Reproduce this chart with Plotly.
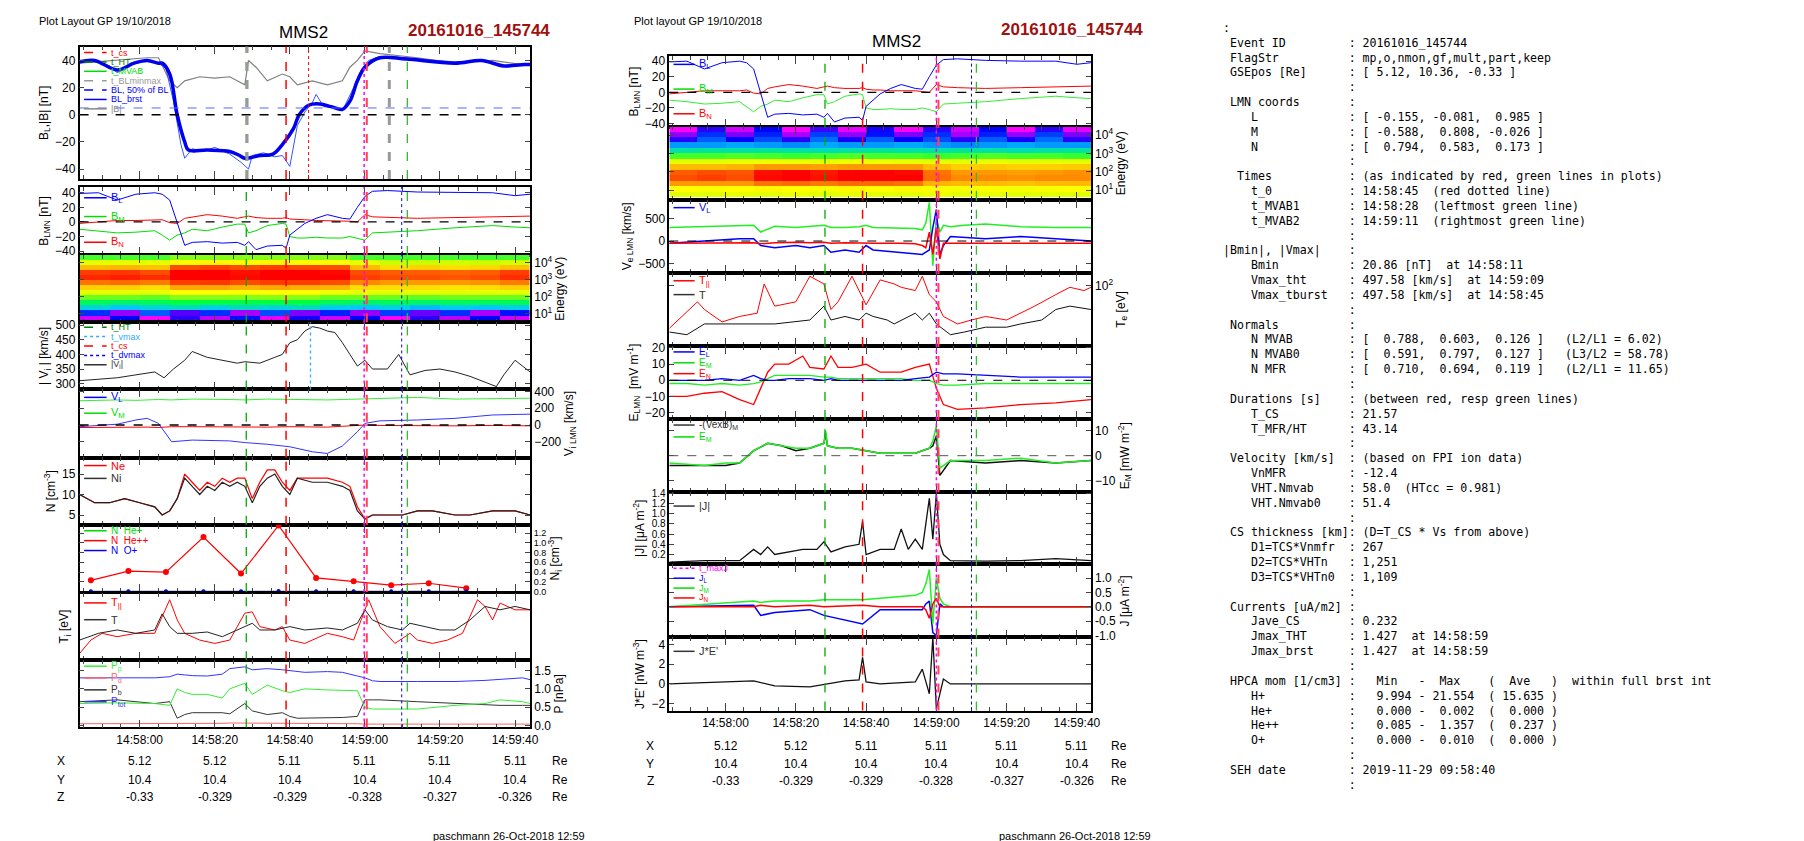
import plotly.graph_objects as go

W, H = 1804, 841
FONT = "Liberation Sans"

# ---------------- data (time in s after 14:57:44) ----------------
TICK_T = [16, 36, 56, 76, 96, 116]
TICK_LBL = ["14:58:00", "14:58:20", "14:58:40", "14:59:00", "14:59:20", "14:59:40"]
POS_X = ["5.12", "5.12", "5.11", "5.11", "5.11", "5.11"]
POS_Y = ["10.4", "10.4", "10.4", "10.4", "10.4", "10.4"]
POS_Z = ["-0.33", "-0.329", "-0.329", "-0.328", "-0.327", "-0.326"]

# panel 1: BL smoothed, BL burst, |B|
bl_t = [0, 4, 10, 14.5, 18, 21, 22, 24, 26, 28, 29, 34, 40, 42.6, 44, 48, 51.5, 54, 57, 58.5, 61, 64, 67, 70, 72, 74, 76, 80, 87, 100, 107, 113, 118.5, 120]
bl_smooth = [39, 40, 33, 38, 40, 38, 38, 30, 0, -20, -26, -26, -27, -30, -32, -30, -29, -22, -10, 0, 7, 8, 6, 4, 10, 25, 35, 42, 41, 38, 40, 36, 37, 37]
blb_t = [0, 4, 8, 10, 14, 18, 21, 23, 25, 27, 28, 30, 33, 36, 40, 43, 45, 46, 49, 52, 54, 56, 58, 60, 62, 63, 65, 68, 70, 73, 75, 77, 80, 87, 95, 100, 107, 113, 120]
bl_brst = [40, 39, 36, 31, 37, 40, 38, 34, 10, -22, -32, -25, -27, -24, -29, -35, -40, -30, -28, -31, -30, -38, -8, 2, 9, 15, 6, 5, 3, 20, 33, 40, 43, 42, 40, 39, 40, 35, 37]
babs_t = [0, 10, 18, 21, 24, 26, 28, 32, 36, 40, 44, 45, 47, 50, 54, 56, 58, 62, 66, 70, 72, 74, 76, 80, 90, 100, 110, 118, 120]
b_abs = [38, 40, 42, 42, 25, 20, 25, 28, 27, 28, 22, 40, 35, 25, 30, 28, 22, 25, 22, 25, 35, 40, 47, 45, 42, 38, 40, 37, 37]

# panel 2 / middle 1: B LMN
blmn_t = [0, 5, 10, 15, 20, 22, 24, 26, 28, 30, 34, 38, 42, 44, 45, 47, 50, 54, 55, 56, 58, 60, 63, 66, 70, 72, 74, 76, 78, 82, 90, 100, 110, 116, 120]
b_l = [39, 40, 30, 38, 40, 38, 30, 0, -32, -28, -27, -29, -28, -32, -27, -38, -33, -32, -36, -18, -10, -2, 5, 10, 5, 4, 20, 35, 42, 43, 41, 40, 40, 36, 38]
b_m = [-10, -12, -15, -14, -12, -18, -25, -18, -15, -10, -12, -7, -3, -3, -15, -12, -5, -2, -3, -20, -22, -22, -21, -22, -22, -20, -22, -25, -15, -14, -12, -8, -5, -7, -8]
b_n = [-2, 0, 2, 2, 2, 3, -1, -2, 5, 7, 10, 8, 5, 7, 8, 6, 5, 5, 6, 4, 3, 3, 2, 2, 2, 1, 0, 10, 7, 6, 5, 6, 7, 8, 8]

# ion spectrogram (left) and electron spectrogram (middle)
SPEC_T = [4, 12, 20, 28, 36, 44, 52, 60, 68, 76, 84, 92, 100, 108, 116]
SPEC_E = [4.35, 4.05, 3.75, 3.45, 3.15, 2.85, 2.55, 2.25, 1.95, 1.65, 1.35, 1.05, 0.75]
ion_spec = [
    [0.45, 0.45, 0.45, 0.5, 0.5, 0.5, 0.5, 0.5, 0.5, 0.45, 0.45, 0.45, 0.45, 0.45, 0.45],
    [0.6, 0.6, 0.6, 0.65, 0.66, 0.65, 0.66, 0.65, 0.65, 0.6, 0.55, 0.55, 0.56, 0.55, 0.57],
    [0.75, 0.76, 0.74, 0.9, 0.92, 0.9, 0.92, 0.91, 0.9, 0.75, 0.7, 0.72, 0.7, 0.71, 0.74],
    [0.92, 0.93, 0.9, 1.0, 1.0, 0.98, 1.0, 1.0, 0.99, 0.9, 0.88, 0.88, 0.87, 0.88, 0.92],
    [0.95, 0.96, 0.94, 1.0, 1.0, 0.99, 1.0, 1.0, 1.0, 0.92, 0.9, 0.9, 0.89, 0.9, 0.94],
    [0.85, 0.86, 0.84, 0.92, 0.93, 0.9, 0.92, 0.92, 0.9, 0.82, 0.8, 0.8, 0.8, 0.81, 0.84],
    [0.72, 0.72, 0.7, 0.78, 0.78, 0.76, 0.78, 0.77, 0.76, 0.7, 0.7, 0.7, 0.69, 0.7, 0.72],
    [0.6, 0.6, 0.6, 0.65, 0.65, 0.64, 0.65, 0.65, 0.62, 0.6, 0.6, 0.6, 0.6, 0.6, 0.6],
    [0.48, 0.48, 0.47, 0.5, 0.5, 0.5, 0.5, 0.5, 0.48, 0.48, 0.48, 0.47, 0.48, 0.48, 0.48],
    [0.38, 0.37, 0.38, 0.4, 0.4, 0.39, 0.4, 0.4, 0.38, 0.37, 0.38, 0.37, 0.38, 0.38, 0.38],
    [0.28, 0.25, 0.28, 0.3, 0.27, 0.3, 0.28, 0.3, 0.26, 0.25, 0.27, 0.24, 0.26, 0.25, 0.27],
    [0.15, 0.05, 0.18, 0.08, 0.15, 0.04, 0.17, 0.06, 0.14, 0.05, 0.16, 0.07, 0.15, 0.04, 0.13],
    [0.02, 0.12, 0.0, 0.1, 0.03, 0.13, 0.01, 0.11, 0.02, 0.12, 0.0, 0.1, 0.03, 0.12, 0.02],
]
ele_spec = [
    [0.0, 0.1, 0.02, 0.12, 0.0, 0.09, 0.01, 0.11, 0.0, 0.1, 0.02, 0.12, 0.0, 0.1, 0.01],
    [0.05, 0.15, 0.06, 0.14, 0.04, 0.16, 0.05, 0.13, 0.06, 0.15, 0.04, 0.14, 0.05, 0.16, 0.06],
    [0.1, 0.18, 0.12, 0.17, 0.1, 0.19, 0.11, 0.18, 0.12, 0.17, 0.1, 0.18, 0.11, 0.19, 0.1],
    [0.22, 0.22, 0.23, 0.22, 0.21, 0.23, 0.22, 0.22, 0.23, 0.22, 0.21, 0.22, 0.23, 0.22, 0.22],
    [0.32, 0.33, 0.32, 0.33, 0.32, 0.31, 0.32, 0.33, 0.32, 0.32, 0.33, 0.32, 0.31, 0.32, 0.33],
    [0.45, 0.45, 0.46, 0.45, 0.44, 0.45, 0.46, 0.45, 0.45, 0.44, 0.45, 0.46, 0.45, 0.45, 0.44],
    [0.6, 0.6, 0.61, 0.62, 0.62, 0.61, 0.62, 0.62, 0.61, 0.6, 0.6, 0.61, 0.6, 0.6, 0.6],
    [0.75, 0.75, 0.76, 0.8, 0.8, 0.79, 0.8, 0.8, 0.8, 0.75, 0.72, 0.73, 0.72, 0.72, 0.73],
    [0.88, 0.9, 0.89, 0.98, 1.0, 0.97, 1.0, 1.0, 0.99, 0.85, 0.8, 0.8, 0.79, 0.8, 0.81],
    [0.9, 0.92, 0.9, 0.99, 1.0, 0.98, 1.0, 1.0, 1.0, 0.86, 0.82, 0.82, 0.81, 0.82, 0.82],
    [0.8, 0.8, 0.8, 0.85, 0.86, 0.84, 0.86, 0.86, 0.85, 0.76, 0.75, 0.75, 0.74, 0.75, 0.75],
    [0.65, 0.64, 0.65, 0.66, 0.65, 0.64, 0.66, 0.65, 0.66, 0.64, 0.63, 0.64, 0.63, 0.64, 0.65],
    [0.6, 0.6, 0.61, 0.6, 0.62, 0.6, 0.61, 0.6, 0.6, 0.62, 0.6, 0.61, 0.6, 0.6, 0.6],
]

# panel 4: |Vi|
vi_t = [0, 5, 10, 15, 20, 22.5, 25, 28, 30, 34, 38, 42, 44, 48, 52, 54, 56, 58, 60, 62, 64, 66, 68, 70, 72, 74, 76, 78, 82, 85, 88, 92, 96, 100, 104, 108, 111, 113, 116, 120]
vi = [310, 315, 320, 330, 340, 320, 350, 380, 410, 390, 380, 370, 375, 370, 390, 400, 440, 450, 480, 495, 490, 480, 475, 440, 400, 360, 380, 350, 350, 400, 330, 345, 350, 340, 325, 305, 290, 330, 380, 340]

# panel 5: Vi LMN
vlmn_t = [0, 10, 15, 18, 21, 24.5, 30, 40, 44, 50, 56, 62, 66, 70, 74, 76, 80, 90, 100, 110, 120]
v_l = [-20, 10, 60, 80, 20, -200, -180, -190, -210, -230, -260, -320, -340, -250, -80, 20, 50, 60, 80, 120, 130]
v_m = [290, 300, 295, 300, 305, 300, 310, 305, 300, 310, 305, 300, 300, 305, 310, 320, 325, 330, 310, 315, 320]
v_n = [-30, -25, -20, -25, -30, -20, -20, -25, -20, -25, -20, -20, -25, -15, -10, 0, -5, -10, -10, -5, -10]

# panel 6: densities
n_t = [0, 4, 8, 12, 16, 20, 22, 24, 26, 28, 30, 32, 34, 36, 38, 40, 42, 44, 46, 48, 50, 52, 54, 56, 58, 62, 66, 70, 72, 74, 76, 78, 82, 86, 90, 94, 100, 104, 110, 116, 120]
n_i = [10, 8, 8, 9, 8, 7, 5, 6, 9, 14, 12, 10, 12, 11, 13, 12, 13, 12, 8, 12, 14, 15, 12, 10, 14, 13, 13, 12, 11, 6, 4, 5, 5, 5, 6, 6, 5, 5, 6, 6, 5]
n_e = [10, 8, 8, 9, 8, 7, 5, 6, 9, 15, 13, 11, 13, 12, 14, 13, 14, 14, 9, 13, 16, 16, 13, 11, 14, 14, 14, 13, 12, 7, 4, 5, 5, 5, 6, 6, 5, 5, 6, 6, 5]

# panel 7: HPCA minor ions
hpca_t = [3, 13, 23, 33, 43, 53, 63, 73, 83, 93, 103]
n_hepp = [0.23, 0.42, 0.40, 1.12, 0.37, 1.357, 0.28, 0.21, 0.13, 0.17, 0.07]
n_hep = [0.0, 0.0, 0.0, 0.0, 0.0, 0.002, 0.0, 0.0, 0.0, 0.0, 0.0]
n_op = [0.005, 0.004, 0.005, 0.005, 0.006, 0.010, 0.005, 0.004, 0.005, 0.004, 0.005]

# panel 8: Ti (relative height)
ti_t = [0, 5, 10, 15, 20, 22, 24, 26, 30, 34, 38, 42, 44, 46, 48, 52, 56, 60, 66, 70, 74, 76, 78, 82, 86, 88, 92, 96, 100, 104, 108, 112, 116, 120]
t_i = [30, 40, 45, 40, 45, 69, 50, 40, 40, 42, 35, 45, 50, 55, 45, 45, 50, 45, 48, 45, 55, 75, 60, 50, 45, 55, 50, 45, 45, 60, 80, 75, 80, 75]
tpar_t = [0, 3, 6, 10, 15, 20, 24, 26, 28, 32, 36, 40, 44, 46, 48, 52, 54, 56, 60, 64, 66, 70, 73, 75, 77, 80, 84, 88, 90, 94, 98, 102, 106, 108, 110, 112, 116, 120]
t_par = [10, 30, 40, 35, 40, 40, 90, 60, 40, 30, 25, 30, 70, 72, 50, 45, 50, 30, 25, 35, 40, 35, 30, 60, 90, 50, 25, 40, 30, 25, 30, 40, 90, 80, 60, 85, 75, 75]

# panel 9: pressures
p_t = [0, 10, 20, 24, 26, 28, 30, 34, 38, 40, 44, 46, 50, 54, 56, 58, 60, 66, 70, 74, 76, 78, 80, 90, 100, 108, 112, 118, 120]
p_tot = [1.3, 1.29, 1.3, 1.33, 1.4, 1.38, 1.36, 1.35, 1.4, 1.55, 1.6, 1.52, 1.55, 1.52, 1.5, 1.48, 1.45, 1.47, 1.45, 1.35, 1.3, 1.22, 1.2, 1.2, 1.2, 1.23, 1.25, 1.3, 1.25]
p_p = [0.6, 0.62, 0.6, 0.55, 1.0, 0.9, 0.85, 0.85, 0.75, 1.0, 1.15, 0.85, 1.1, 0.95, 0.9, 0.95, 1.0, 0.97, 0.95, 0.95, 0.5, 0.45, 0.45, 0.45, 0.55, 0.6, 0.7, 0.65, 0.6]
p_b = [0.65, 0.7, 0.6, 0.65, 0.2, 0.3, 0.35, 0.35, 0.35, 0.32, 0.6, 0.4, 0.3, 0.35, 0.25, 0.2, 0.2, 0.2, 0.22, 0.25, 0.7, 0.7, 0.7, 0.65, 0.6, 0.58, 0.55, 0.55, 0.55]
p_a = [0.05, 0.05, 0.05, 0.05, 0.04, 0.05, 0.06, 0.06, 0.06, 0.07, 0.07, 0.07, 0.07, 0.07, 0.07, 0.06, 0.06, 0.06, 0.06, 0.05, 0.04, 0.04, 0.04, 0.04, 0.04, 0.04, 0.04, 0.04, 0.04]

# middle 3: Ve LMN
ve_t = [0, 10, 20, 24, 26, 30, 36, 40, 44, 46, 50, 54, 56, 58, 66, 70, 72, 73, 74, 75, 76, 77, 78, 80, 84, 90, 100, 110, 120]
ve_l = [-50, 0, 50, 50, -100, -150, -100, -150, -100, -250, -200, -250, -100, -200, -250, -280, -300, -250, -200, 300, 700, -300, -100, 100, 80, 50, 100, 50, 0]
ve_m = [300, 320, 330, 350, 200, 330, 300, 320, 350, 300, 300, 320, 350, 300, 290, 280, 250, 400, 860, -550, 500, 200, 350, 320, 350, 380, 320, 300, 300]
ve_n = [-50, -50, -50, -40, -60, -40, -30, -40, -30, -50, -40, -50, -40, -50, -50, -60, -100, -150, 200, -300, 300, -400, -50, -50, -40, -50, -50, -40, -50]

# middle 4: Te (eV)
tepar_t = [0, 8, 10, 15, 20, 25, 27, 30, 36, 40, 44, 46, 48, 52, 56, 60, 64, 66, 70, 72, 74, 76, 78, 82, 86, 90, 96, 104, 110, 114, 118, 120]
te_par = [32, 65, 53, 38, 44, 48, 105, 58, 65, 129, 105, 53, 65, 129, 60, 117, 105, 96, 88, 129, 79, 65, 44, 36, 40, 44, 40, 58, 79, 96, 88, 96]
te_t = [0, 5, 10, 20, 30, 40, 44, 46, 50, 54, 56, 58, 62, 64, 70, 72, 74, 76, 80, 84, 90, 96, 100, 106, 110, 114, 120]
t_e = [29, 27, 36, 36, 36, 40, 58, 40, 44, 40, 48, 44, 40, 36, 48, 40, 48, 36, 27, 29, 33, 33, 36, 40, 53, 58, 53]

# middle 5: E LMN
e_t = [0, 5, 10, 15, 20, 24, 26, 28, 30, 34, 38, 40, 44, 46, 48, 52, 56, 60, 66, 70, 74, 76, 78, 82, 90, 100, 110, 120]
e_l = [0, 0, 0, 1, 0, 3, 1, 0, 0, 1, 1, 1, 0, 1, 0, 0, 0, 0, 0, 1, 2, 5, 4, 4, 3, 2, 2, 2]
e_m = [-2, -2, -3, -2, -3, -2, -1, 1, 3, 3, 3, 3, 2, 2, 1, 1, 1, 1, 1, 0, 0, -2, -3, -3, -2, -2, -2, -2]
e_n = [-10, -10, -8, -7, -12, -15, -5, 5, 10, 10, 15, 8, 7, 15, 8, 8, 10, 5, 5, 8, 10, -5, -15, -18, -17, -15, -14, -12]

# middle 6: E_M and -(VexB)_M
em_t = [0, 10, 16, 20, 24, 28, 32, 36, 40, 44, 44.5, 45, 48, 52, 56, 60, 70, 74, 75, 76, 77, 80, 90, 100, 110, 120]
em_vexb = [-4, -4, -4, -3, 2, 5, 4, 2, 3, 5, 9, 4, 3, 3, 2, 1, 1, 3, 4, 8, -8, -2, -3, -2, -3, -2]
em_e = [-3, -4, -3, -3, 2, 5, 4, 3, 3, 5, 10, 4, 3, 3, 2, 1, 1, 3, 6, 12, -5, -2, -2, -1, -3, -2]

# middle 7: |J|
j_t = [0, 10, 20, 24, 26, 28, 30, 34, 38, 42, 44, 46, 50, 54, 55, 56, 60, 64, 66, 68, 70, 72, 74, 75, 76, 77, 78, 80, 90, 100, 110, 120]
j_abs = [0.05, 0.08, 0.08, 0.3, 0.2, 0.35, 0.2, 0.25, 0.3, 0.3, 0.45, 0.25, 0.35, 0.4, 0.85, 0.2, 0.3, 0.3, 0.7, 0.3, 0.5, 0.3, 1.3, 0.5, 1.4, 0.4, 0.2, 0.08, 0.07, 0.08, 0.12, 0.08]

# middle 8: J LMN
jv_t = [0, 24, 26, 30, 40, 44, 55, 60, 70, 72, 73, 74, 75, 76, 77, 78, 80, 120]
j_l = [0, 0.05, -0.3, -0.2, -0.1, -0.3, -0.6, -0.1, -0.1, -0.1, 0.1, 0.2, -0.9, -1.0, 0.1, 0, 0, 0]
j_m = [0, 0.2, 0.15, 0.2, 0.2, 0.25, 0.25, 0.3, 0.4, 0.5, 0.8, 1.3, -0.6, 1.0, 0.3, 0.1, 0, 0]
j_n = [0, 0, 0.05, 0, 0.05, 0, 0.05, 0, 0, 0, -0.1, -0.4, 0.1, 0.3, 0, 0, 0, 0]

# middle 9: J*E'
je_t = [0, 24, 30, 40, 50, 54, 55, 56, 60, 70, 72, 74, 75, 76, 78, 80, 120]
j_e = [0, 0.3, -0.2, -0.3, 0.3, 0.4, 2.7, 0.2, 0, 0.2, 1.5, -1, 4.7, -2.5, 0.5, 0, 0]

# ---------------- layout helpers ----------------
COLS = {"L": (72, 525), "M": (665, 1089)}
PANELS = [
    ("L", 34, 168), ("L", 176, 245), ("L", 245, 313), ("L", 313, 381), ("L", 381, 450),
    ("L", 450, 518), ("L", 518, 586), ("L", 587, 655), ("L", 655, 723),
    ("M", 44, 115), ("M", 115, 189), ("M", 189, 263), ("M", 263, 337), ("M", 337, 411),
    ("M", 411, 485), ("M", 485, 558), ("M", 558, 632), ("M", 632, 706),
]
YCFG = [
    dict(range=[-47.3, 50.2], dtick=20, title="B<sub>L</sub>,|B| [nT]"),
    dict(range=[-45.4, 48], dtick=20, title="B<sub>LMN</sub> [nT]"),
    dict(range=[0.47, 4.47], tickvals=[1, 2, 3, 4], ticktext=["10<sup>1</sup>", "10<sup>2</sup>", "10<sup>3</sup>", "10<sup>4</sup>"], title="Energy (eV)", side="right"),
    dict(range=[280, 510], dtick=50, title="| V<sub>i</sub> | [km/s]"),
    dict(range=[-390, 425], tickvals=[-200, 0, 200, 400], title="V<sub>i LMN</sub> [km/s]", side="right"),
    dict(range=[2.6, 19], tickvals=[5, 10, 15], title="N [cm<sup>-3</sup>]"),
    dict(range=[-0.01, 1.37], tickvals=[0, 0.2, 0.4, 0.6, 0.8, 1.0, 1.2], ticktext=["0.0", "0.2", "0.4", "0.6", "0.8", "1.0", "1.2"], title="N<sub>i</sub> [cm<sup>-3</sup>]", side="right", fs=9),
    dict(range=[0, 100], tickvals=[], title="T<sub>i</sub> [eV]"),
    dict(range=[-0.05, 1.78], tickvals=[0, 0.5, 1, 1.5], ticktext=["0.0", "0.5", "1.0", "1.5"], title="P [nPa]", side="right"),
    dict(range=[-44, 46], dtick=20, title="B<sub>LMN</sub> [nT]"),
    dict(range=[0.47, 4.47], tickvals=[1, 2, 3, 4], ticktext=["10<sup>1</sup>", "10<sup>2</sup>", "10<sup>3</sup>", "10<sup>4</sup>"], title="Energy (eV)", side="right"),
    dict(range=[-710, 920], tickvals=[-500, 0, 500], title="V<sub>e LMN</sub> [km/s]"),
    dict(range=[1.3, 2.15], type="log", tickvals=[100], ticktext=["10<sup>2</sup>"], title="T<sub>e</sub> [eV]", side="right"),
    dict(range=[-24, 21.2], dtick=10, title="E<sub>LMN</sub>  [mV m<sup>-1</sup>]"),
    dict(range=[-14.8, 14.8], tickvals=[-10, 0, 10], title="E<sub>M</sub> [mW m<sup>-2</sup>]", side="right"),
    dict(range=[0.007, 1.42], tickvals=[0.2, 0.4, 0.6, 0.8, 1.0, 1.2, 1.4], ticktext=["0.2", "0.4", "0.6", "0.8", "1.0", "1.2", "1.4"], title="|J| [μA m<sup>-2</sup>]", fs=10),
    dict(range=[-1.07, 1.48], tickvals=[-1, -0.5, 0, 0.5, 1], ticktext=["-1.0", "-0.5", "0.0", "0.5", "1.0"], title="J [μA m<sup>-2</sup>]", side="right"),
    dict(range=[-2.7, 4.7], tickvals=[-2, 0, 2, 4], title="J*E' [nW m<sup>-3</sup>]"),
]


def sfx(n):
    return "" if n == 1 else str(n)


fig = go.Figure()
layout = dict(width=W, height=H, margin=dict(l=0, r=0, t=0, b=0), showlegend=False,
              paper_bgcolor="white", plot_bgcolor="white",
              font=dict(family=FONT, size=11, color="black"))
shapes, annos = [], []

for i, (col, top, bot) in enumerate(PANELS):
    n = i + 1
    x0, x1 = COLS[col]
    last = (n == 9 or n == 18)
    layout[f"xaxis{sfx(n)}"] = dict(
        domain=[x0 / W, x1 / W], anchor=f"y{sfx(n)}", range=[0, 120],
        tickvals=TICK_T, ticktext=TICK_LBL, showticklabels=last,
        ticks="inside", ticklen=8, tickcolor="#444", mirror="ticks",
        showline=True, linecolor="black", linewidth=1.5,
        showgrid=False, zeroline=False, tickfont=dict(size=12),
        minor=dict(tick0=1, dtick=5, ticks="inside", ticklen=4, tickcolor="#444"))
    c = YCFG[i]
    ya = dict(domain=[1 - bot / H, 1 - top / H], anchor=f"x{sfx(n)}", range=c["range"],
              side=c.get("side", "left"), ticks="inside", ticklen=5, mirror="ticks",
              showline=True, linecolor="black", linewidth=1.5, showgrid=False,
              zeroline=False, tickfont=dict(size=c.get("fs", 12)),
              title=dict(text=c["title"], font=dict(size=12), standoff=4))
    for k in ("dtick", "tickvals", "ticktext", "type"):
        if k in c:
            ya[k] = c[k]
    layout[f"yaxis{sfx(n)}"] = ya


def line(n, x, y, color, width=1, dash="solid", **kw):
    fig.add_trace(go.Scatter(x=x, y=y, mode=kw.pop("mode", "lines"),
                             line=dict(color=color, width=width, dash=dash),
                             xaxis=f"x{sfx(n)}", yaxis=f"y{sfx(n)}", **kw))


def vline(n, t, color, dash="dash", width=1.3):
    shapes.append(dict(type="line", xref=f"x{sfx(n)}", yref=f"y{sfx(n)} domain", x0=t, x1=t, y0=0, y1=1,
                       line=dict(color=color, dash=dash, width=width)))


def hline(n, y, color="black", width=1.3, dash="dash"):
    shapes.append(dict(type="line", xref=f"x{sfx(n)} domain", yref=f"y{sfx(n)}", x0=0, x1=1, y0=y, y1=y,
                       line=dict(color=color, dash=dash, width=width)))


def legend(n, entries, step=11, top=8, size=11):
    col, t, b = PANELS[n - 1]
    h = b - t
    for k, (txt, color, dash) in enumerate(entries):
        yy = 1 - (top + k * step) / h
        shapes.append(dict(type="line", xref=f"x{sfx(n)} domain", yref=f"y{sfx(n)} domain", x0=0.01, x1=0.06,
                           y0=yy, y1=yy, line=dict(color=color, width=1.5, dash=dash)))
        annos.append(dict(xref=f"x{sfx(n)} domain", yref=f"y{sfx(n)} domain", x=0.065, y=yy, text=txt,
                          showarrow=False, xanchor="left", yanchor="middle",
                          font=dict(size=size, color=color)))


SPEC_SCALE = [[0, "#ff00ff"], [0.12, "#0000ff"], [0.25, "#00c8ff"], [0.4, "#00ff40"],
              [0.55, "#c8ff00"], [0.65, "#ffff00"], [0.8, "#ff9900"], [1, "#ff0000"]]

# ---- left column traces ----
line(1, babs_t, b_abs, "#808080", 1.2)
line(1, blb_t, bl_brst, "#3355ff", 1)
line(1, bl_t, bl_smooth, "#0000ee", 3.5, line_shape="spline")
hline(1, 0)
hline(1, 5, "#5566ff", 1)
legend(1, [("t_cs", "red", "dash"), ("t_HT", "green", "dash"), ("t_MVAB", "#00dd00", "solid"),
           ("t_BLminmax", "#999999", "dash"), ("BL, 50% of BL", "blue", "dash"),
           ("BL_brst", "blue", "solid"), ("|B|", "#888888", "solid")], step=9.5, top=6, size=9)

line(2, blmn_t, b_n, "red")
line(2, blmn_t, b_m, "#00dd00")
line(2, blmn_t, b_l, "blue")
hline(2, 0)
legend(2, [("B<sub>L</sub>", "blue", "solid")], top=11)
legend(2, [("B<sub>M</sub>", "#00dd00", "solid")], top=30)
legend(2, [("B<sub>N</sub>", "red", "solid")], top=56)

fig.add_trace(go.Heatmap(x=SPEC_T, y=SPEC_E, z=ion_spec, colorscale=SPEC_SCALE, zmin=0, zmax=1,
                         showscale=False, xaxis="x3", yaxis="y3"))

line(4, vi_t, vi, "#222222")
vline(4, 61.5, "#33aaff", "dot")
legend(4, [("t_HT", "green", "dash"), ("t_vmax", "#33aaff", "dot"), ("t_cs", "red", "dash"),
           ("t_dvmax", "blue", "dot"), ("|V<sub>i</sub>|", "#333333", "solid")], step=9.5, top=5, size=9)

line(5, vlmn_t, v_n, "red")
line(5, vlmn_t, v_m, "#33ee33")
line(5, vlmn_t, v_l, "#3333ff")
hline(5, 0)
legend(5, [("V<sub>L</sub>", "blue", "solid")], top=8)
legend(5, [("V<sub>M</sub>", "#00dd00", "solid")], top=24)

line(6, n_t, n_e, "red", 1.2)
line(6, n_t, n_i, "#222222", 1.2)
legend(6, [("Ne", "red", "solid"), ("Ni", "#333333", "solid")], step=13, top=8)

line(7, hpca_t, n_hepp, "red", 1.2, mode="lines+markers", marker=dict(size=6, color="red"))
line(7, hpca_t, n_hep, "#00dd00", 1, mode="lines+markers", marker=dict(size=4, color="#00dd00"))
line(7, hpca_t, n_op, "blue", 1, mode="lines+markers", marker=dict(size=4, color="blue"))
legend(7, [("N  He+", "#00dd00", "solid"), ("N  He++", "red", "solid"), ("N  O+", "blue", "solid")], step=10, top=6, size=10)

line(8, tpar_t, t_par, "red")
line(8, ti_t, t_i, "#222222")
legend(8, [("T<sub>||</sub>", "red", "solid")], top=10)
legend(8, [("T", "#333333", "solid")], top=27)

line(9, p_t, p_a, "#ff6666")
line(9, p_t, p_b, "#333333")
line(9, p_t, p_p, "#33ee33")
line(9, p_t, p_tot, "#3333ff")
legend(9, [("P<sub>p</sub>", "#33ee33", "solid"), ("P<sub>α</sub>", "#ff6666", "solid"),
           ("P<sub>b</sub>", "#333333", "solid"), ("P<sub>tot</sub>", "#3333ff", "solid")], step=12, top=6, size=10)

# ---- middle column traces ----
line(10, blmn_t, b_n, "red")
line(10, blmn_t, b_m, "#33ee33")
line(10, blmn_t, b_l, "blue")
hline(10, 0)
legend(10, [("B<sub>L</sub>", "blue", "solid")], top=8)
legend(10, [("B<sub>M</sub>", "#00dd00", "solid")], top=33)
legend(10, [("B<sub>N</sub>", "red", "solid")], top=58)

fig.add_trace(go.Heatmap(x=SPEC_T, y=SPEC_E, z=ele_spec, colorscale=SPEC_SCALE, zmin=0, zmax=1,
                         showscale=False, xaxis="x11", yaxis="y11"))

line(12, ve_t, ve_m, "#22ee22", 1.5)
line(12, ve_t, ve_l, "blue", 1.5)
line(12, ve_t, ve_n, "red", 1.5)
hline(12, 0, width=1)
legend(12, [("V<sub>L</sub>", "blue", "solid")], top=8)

line(13, tepar_t, te_par, "red")
line(13, te_t, t_e, "#111111")
legend(13, [("T<sub>||</sub>", "red", "solid")], top=8)
legend(13, [("T", "#333333", "solid")], top=22)

line(14, e_t, e_n, "red", 1.3)
line(14, e_t, e_m, "#22ee22", 1.3)
line(14, e_t, e_l, "blue", 1.3)
hline(14, 0, width=1)
legend(14, [("E<sub>L</sub>", "blue", "solid"), ("E<sub>M</sub>", "#00dd00", "solid"), ("E<sub>N</sub>", "red", "solid")], step=11, top=6, size=10)

line(15, em_t, em_vexb, "#111111", 1.5)
line(15, em_t, em_e, "#22ee22", 1.5)
hline(15, 0, "#555555", 1)
legend(15, [("-(VexB)<sub>M</sub>", "#333333", "solid"), ("E<sub>M</sub>", "#00dd00", "solid")], step=12, top=6, size=10)

line(16, j_t, j_abs, "#111111", 1.3)
legend(16, [("|J|", "#333333", "solid")], top=14)

line(17, jv_t, j_l, "blue", 1.5)
line(17, jv_t, j_m, "#22ee22", 1.5)
line(17, jv_t, j_n, "red", 1.5)
legend(17, [("t_maxJ", "magenta", "dot"), ("J<sub>L</sub>", "blue", "solid"),
            ("J<sub>M</sub>", "#00dd00", "solid"), ("J<sub>N</sub>", "red", "solid")], step=10, top=4, size=9)

line(18, je_t, j_e, "#111111", 1.3)
legend(18, [("J*E'", "#333333", "solid")], top=14)

# ---- event marker lines ----
for n in range(1, 10):
    vline(n, 44.4, "#00aa00")
    vline(n, 87.3, "#33bb33")
    vline(n, 55, "red", width=1.5)
    vline(n, 76.5, "#ff4444", width=2)
    vline(n, 75.8, "magenta", "dot", 1.5)
    if n == 1:
        vline(n, 61, "red", "dot", 1)
        vline(n, 44.6, "#999999", "dash", 3)
        vline(n, 82.5, "#999999", "dash", 3)
    else:
        vline(n, 85.8, "blue", "dot", 1)
for n in range(10, 19):
    vline(n, 44.3, "#00aa00")
    vline(n, 87.4, "#33bb33")
    vline(n, 55, "red", width=1.5)
    vline(n, 76.6, "#ff4444", width=2)
    vline(n, 76, "magenta", "dot", 1.5)
    vline(n, 86, "blue", "dot", 1)

# ---- coordinate rows, titles, footers ----
for n, ys, rex in ((9, (757, 776, 793), 545), (18, (742, 760, 777), 1107)):
    x0 = COLS["L" if n == 9 else "M"][0]
    for lbl, vals, yy in (("X", POS_X, ys[0]), ("Y", POS_Y, ys[1]), ("Z", POS_Z, ys[2])):
        annos.append(dict(xref="paper", yref="paper", x=(x0 - 19) / W, y=1 - yy / H, text=lbl,
                          showarrow=False, xanchor="center", yanchor="middle", font=dict(size=12)))
        for t, v in zip(TICK_T, vals):
            annos.append(dict(xref=f"x{n}", yref="paper", x=t, y=1 - yy / H, text=v,
                              showarrow=False, xanchor="center", yanchor="middle", font=dict(size=12)))
        annos.append(dict(xref="paper", yref="paper", x=rex / W, y=1 - yy / H, text="Re",
                          showarrow=False, xanchor="left", yanchor="middle", font=dict(size=12)))

for xl, xm, xd, ym, yd in ((29, 297, 400, 20, 18), (627, 893, 997, 29, 17)):
    annos.append(dict(xref="paper", yref="paper", x=xl / W, y=1 - 8 / H, text="Plot Layout GP 19/10/2018" if xl == 29 else "Plot layout GP 19/10/2018",
                      showarrow=False, xanchor="left", yanchor="middle", font=dict(size=11)))
    annos.append(dict(xref="paper", yref="paper", x=xm / W, y=1 - ym / H, text="MMS2",
                      showarrow=False, xanchor="center", yanchor="middle", font=dict(size=17)))
    annos.append(dict(xref="paper", yref="paper", x=xd / W, y=1 - yd / H, text="<b>20161016_145744</b>",
                      showarrow=False, xanchor="left", yanchor="middle", font=dict(size=17, color="#a01010")))
for xf in (425, 995):
    annos.append(dict(xref="paper", yref="paper", x=xf / W, y=1 - 833 / H, text="paschmann 26-Oct-2018 12:59",
                      showarrow=False, xanchor="left", yanchor="middle", font=dict(size=11)))

# ---- right-hand summary text ----
SUMMARY = [
    None, (" Event ID", "20161016_145744"), (" FlagStr", "mp,o,nmon,gf,mult,part,keep"),
    (" GSEpos [Re]", "[ 5.12, 10.36, -0.33 ]"), ("", ""), (" LMN coords", ""),
    ("    L", "[ -0.155, -0.081,  0.985 ]"), ("    M", "[ -0.588,  0.808, -0.026 ]"),
    ("    N", "[  0.794,  0.583,  0.173 ]"), ("", ""),
    ("  Times", "(as indicated by red, green lines in plots)"),
    ("    t_0", "14:58:45  (red dotted line)"), ("    t_MVAB1", "14:58:28  (leftmost green line)"),
    ("    t_MVAB2", "14:59:11  (rightmost green line)"), ("", ""),
    ("|Bmin|, |Vmax|", ""), ("    Bmin", "20.86 [nT]  at 14:58:11"),
    ("    Vmax_tht", "497.58 [km/s]  at 14:59:09"), ("    Vmax_tburst", "497.58 [km/s]  at 14:58:45"),
    ("", ""), (" Normals", ""),
    ("    N MVAB", "[  0.788,  0.603,  0.126 ]   (L2/L1 = 6.02)"),
    ("    N MVAB0", "[  0.591,  0.797,  0.127 ]   (L3/L2 = 58.78)"),
    ("    N MFR", "[  0.710,  0.694,  0.119 ]   (L2/L1 = 11.65)"), ("", ""),
    (" Durations [s]", "(between red, resp green lines)"), ("    T_CS", "21.57"),
    ("    T_MFR/HT", "43.14"), ("", ""),
    (" Velocity [km/s]", "(based on FPI ion data)"), ("    VnMFR", "-12.4"),
    ("    VHT.Nmvab", "58.0  (HTcc = 0.981)"), ("    VHT.Nmvab0", "51.4"), ("", ""),
    (" CS thickness [km]", "(D=T_CS * Vs from above)"), ("    D1=TCS*Vnmfr", "267"),
    ("    D2=TCS*VHTn", "1,251"), ("    D3=TCS*VHTn0", "1,109"), ("", ""),
    (" Currents [uA/m2]", ""), ("    Jave_CS", "0.232"), ("    Jmax_THT", "1.427  at 14:58:59"),
    ("    Jmax_brst", "1.427  at 14:58:59"), ("", ""),
    (" HPCA mom [1/cm3]", "  Min   -  Max    (  Ave   )  within full brst int"),
    ("    H+", "  9.994 - 21.554  ( 15.635 )"), ("    He+", "  0.000 -  0.002  (  0.000 )"),
    ("    He++", "  0.085 -  1.357  (  0.237 )"), ("    O+", "  0.000 -  0.010  (  0.000 )"),
    ("", ""), (" SEH date", "2019-11-29 09:58:40"), ("", ""),
]
for k, row in enumerate(SUMMARY):
    if row is None:
        s = ":"
    else:
        lab, val = row
        s = lab.ljust(18) + ":" + (" " + val if val else "")
    annos.append(dict(xref="paper", yref="paper", x=1220 / W, y=1 - (15 + k * 15.02) / H,
                      text=s.replace(" ", "\u00a0"), showarrow=False, xanchor="left", yanchor="middle",
                      font=dict(family="DejaVu Sans Mono", size=11.6, color="black")))

layout["shapes"] = shapes
layout["annotations"] = annos
fig.update_layout(**layout)
fig.write_html("out.html")
